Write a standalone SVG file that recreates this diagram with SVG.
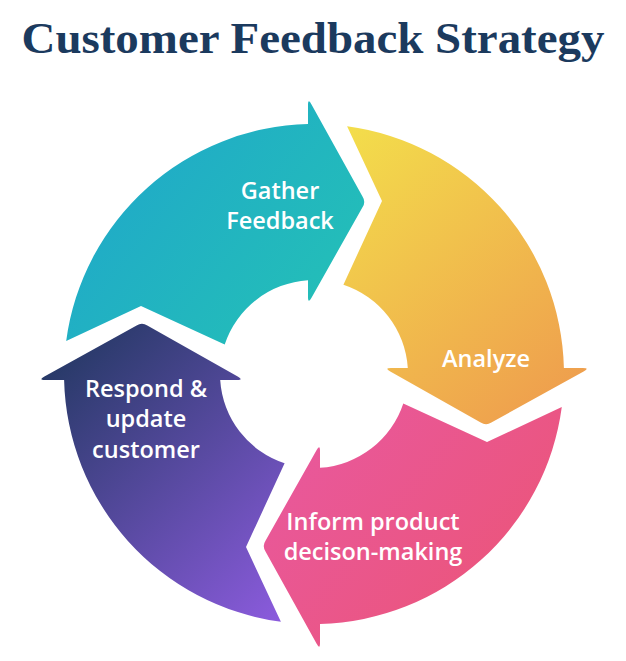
<svg xmlns="http://www.w3.org/2000/svg" width="626" height="661" viewBox="0 0 626 661">
<defs>
<linearGradient id="gTeal" gradientUnits="userSpaceOnUse" x1="70" y1="110" x2="360" y2="340">
<stop offset="0" stop-color="#1FA5CC"/><stop offset="1" stop-color="#24C2B5"/>
</linearGradient>
<linearGradient id="gYellow" gradientUnits="userSpaceOnUse" x1="340" y1="130" x2="590" y2="430">
<stop offset="0" stop-color="#F3DE4B"/><stop offset="1" stop-color="#EE974E"/>
</linearGradient>
<linearGradient id="gPink" gradientUnits="userSpaceOnUse" x1="260" y1="400" x2="560" y2="650">
<stop offset="0" stop-color="#E859A2"/><stop offset="1" stop-color="#EC5472"/>
</linearGradient>
<linearGradient id="gPurple" gradientUnits="userSpaceOnUse" x1="40" y1="370" x2="290" y2="625">
<stop offset="0" stop-color="#263966"/><stop offset="1" stop-color="#8E5CE0"/>
</linearGradient>
</defs>
<style>
.title{font-family:"Liberation Serif","Times New Roman",serif;font-weight:bold;font-size:45px;fill:#1B3A5E}
.lbl{font-family:"Open Sans","Noto Sans",sans-serif;font-weight:600;font-size:23.5px;fill:#FFFFFF;text-anchor:middle}
</style>
<text class="title" x="313" y="53" text-anchor="middle" textLength="583" lengthAdjust="spacingAndGlyphs">Customer Feedback Strategy</text>
<g id="connectors"></g>
<g id="gather">
<path fill="url(#gTeal)" d="M66.2,340.9 A250,250 0 0 1 308,124.1 L308,105 Q308,98 311.5,104.4 L362.5,196.6 Q366,202 362.5,207.3 L311.5,297.7 Q308,304 308,297 L308,280.2 A94,94 0 0 0 224.7,344.6 L141,306 Z"/>
<text class="lbl" x="280" y="199">Gather</text>
<text class="lbl" x="280" y="229">Feedback</text>
</g>
<g id="analyze">
<path fill="url(#gYellow)" d="M347.1,126.2 A250,250 0 0 1 563.9,368 L583,368 Q590,368 583.6,371.5 L491.4,422.5 Q486,426 480.7,422.5 L390.3,371.5 Q384,368 391,368 L407.8,368 A94,94 0 0 0 343.4,284.7 L382,201 Z"/>
<text class="lbl" x="486" y="367">Analyze</text>
</g>
<g id="inform">
<path fill="url(#gPink)" d="M561.8,407.1 A250,250 0 0 1 320,623.9 L320,643 Q320,650 316.5,643.6 L265.5,551.4 Q262,546 265.5,540.7 L316.5,450.3 Q320,444 320,451 L320,467.8 A94,94 0 0 0 403.3,403.4 L487,442 Z"/>
<text class="lbl" x="373" y="530">Inform product</text>
<text class="lbl" x="373" y="560">decison-making</text>
</g>
<g id="respond">
<path fill="url(#gPurple)" d="M280.9,621.8 A250,250 0 0 1 64.1,380 L45,380 Q38,380 44.4,376.5 L136.6,325.5 Q142,322 147.3,325.5 L237.7,376.5 Q244,380 237,380 L220.2,380 A94,94 0 0 0 284.6,463.3 L246,547 Z"/>
<text class="lbl" x="146" y="397">Respond &amp;</text>
<text class="lbl" x="146" y="427">update</text>
<text class="lbl" x="146" y="458">customer</text>
</g>
</svg>
